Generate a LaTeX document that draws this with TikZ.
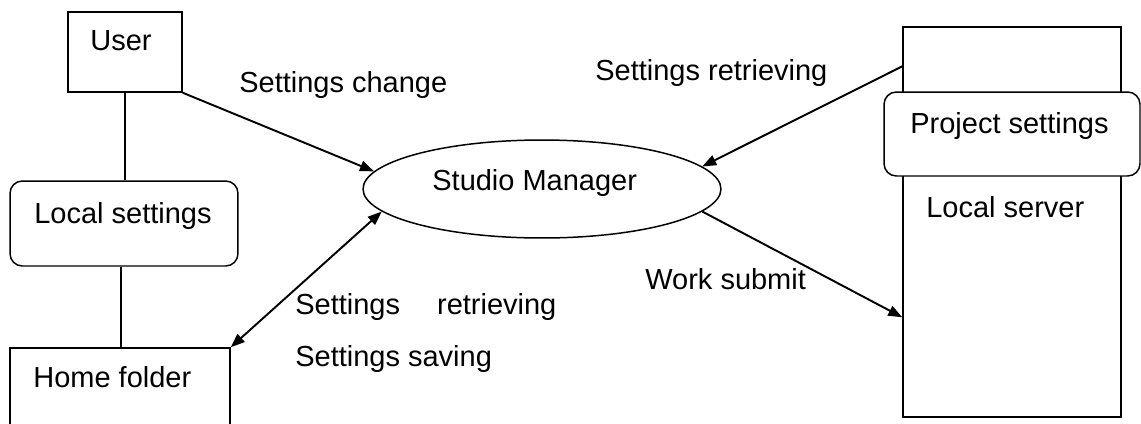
\documentclass[tikz,border=0pt]{standalone}
\usepackage{fontspec}
\setmainfont{Liberation Sans}
\usetikzlibrary{arrows.meta, shapes.geometric, calc}

\begin{document}
\begin{tikzpicture}[x=0.02cm, y=-0.02cm,
  box/.style={draw, line width=0.85pt, inner sep=0pt},
  rbox/.style={box, rounded corners=7pt, fill=white},
  flow/.style={line width=1.1pt, -{Triangle[length=8pt, width=6pt]}},
  both/.style={line width=1.1pt, {Triangle[length=8pt, width=6pt]}-{Triangle[length=8pt, width=6pt]}},
  lbl/.style={anchor=base west, inner sep=0pt, font=\fontsize{16.5pt}{19pt}\selectfont}]
  \useasboundingbox (0,0) rectangle (1141,423);
  \clip (0,0) rectangle (1141,423);

  % Boxes
  \node[box, minimum width=2.28cm, minimum height=1.6cm] (user) at (125,52) {};
  \node[rbox, minimum width=4.56cm, minimum height=1.7cm] (local) at (124,223.5) {};
  \node[box, minimum width=4.4cm, minimum height=2.2cm] (home) at (120,403) {};
  \node[box, minimum width=4.36cm, minimum height=7.8cm] (server) at (1012,222) {};
  \node[rbox, minimum width=5.12cm, minimum height=1.68cm] (proj) at (1012,134) {};
  \node[box, ellipse, minimum width=7.16cm, minimum height=1.96cm] (studio) at (542,189) {};

  % Links
  \draw[line width=0.85pt] (user.south) -- (user.south |- local.north);
  \draw[line width=0.85pt] ([xshift=-0.06cm]local.south) -- ([xshift=-0.06cm]local.south |- home.north);

  \coordinate (srvin) at ($(server.north west)+(0,40)$);
  \coordinate (srvout) at ($(server.north west)+(0,291)$);
  \draw[flow] (user.south east) -- (studio.174);
  \draw[both] (home.north east) -- (studio.188);
  \draw[flow] (srvin) -- (studio.8);
  \draw[flow] (studio.352) -- (srvout);

  % Texts
  \node[lbl] (t-user) at (90,50) {User};
  \node[lbl] (t-local) at (34,223) {Local settings};
  \node[lbl] (t-home) at (33,387) {Home folder};
  \node[lbl] (t-studio) at (432,190) {Studio Manager};
  \node[lbl] (t-proj) at (910,133) {Project settings};
  \node[lbl] (t-server) at (926,217) {Local server};
  \node[lbl] (t-change) at (239,92) {Settings change};
  \node[lbl] (t-fetch) at (595,80) {Settings retrieving};
  \node[lbl] (t-submit) at (645,289) {Work submit};
  \node[lbl] (t-fetch2) at (295,314) {Settings \hspace{1em}retrieving};
  \node[lbl] (t-save) at (295,366) {Settings saving};
\end{tikzpicture}
\end{document}
